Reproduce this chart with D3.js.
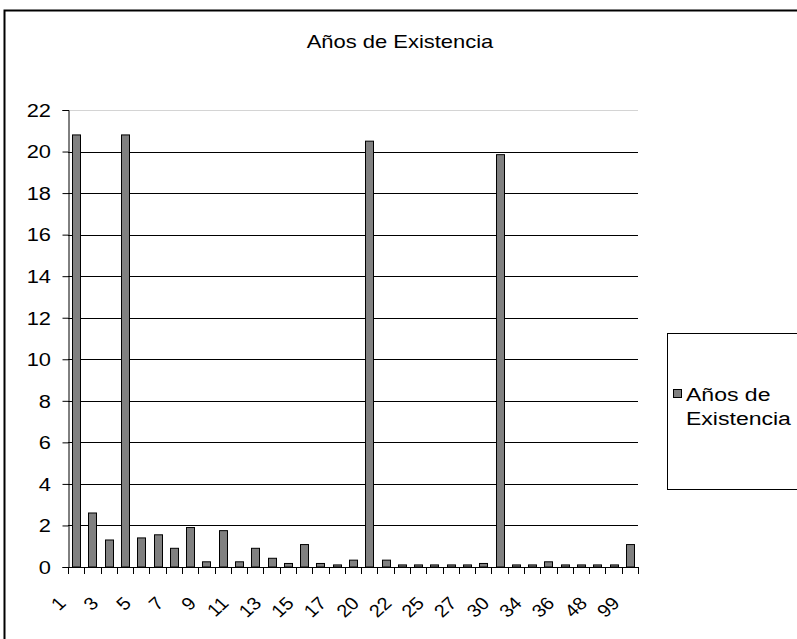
<!DOCTYPE html>
<html><head><meta charset="utf-8">
<script src="https://cdn.jsdelivr.net/npm/d3@7"></script>
<style>body{margin:0;background:#fff}svg{display:block;font-family:Arial,"Liberation Sans",sans-serif}</style>
</head><body><script>
const categories = ["1","2","3","4","5","6","7","8","9","10","11","12","13","14","15","16","17","18","20","21","22","24","25","26","27","28","30","32","34","35","36","40","48","50","99"];
const values = [20.8,2.6,1.3,20.8,1.4,1.55,0.9,1.9,0.25,1.75,0.25,0.9,0.42,0.17,1.08,0.17,0.1,0.33,20.5,0.33,0.1,0.1,0.1,0.1,0.1,0.17,19.85,0.1,0.1,0.25,0.1,0.1,0.1,0.1,1.08];
const yTicks = [0,2,4,6,8,10,12,14,16,18,20,22];
const shownLabels = ["1","3","5","7","9","11","13","15","17","20","22","25","27","30","34","36","48","99"];
const title = "Años de Existencia";
const seriesName = ["Años de", "Existencia"];

const W = 797, H = 639;
const svg = d3.select("body").append("svg").attr("width", W).attr("height", H);

// outer frame
svg.append("rect").attr("x", 4.5).attr("y", 10.5).attr("width", 820).attr("height", 660)
  .attr("fill", "#fff").attr("stroke", "#000").attr("stroke-width", 2);

svg.append("text").attr("transform", "translate(400,48) scale(1.22,1)").attr("text-anchor", "middle")
  .attr("font-size", 18).text(title);

const x = d3.scaleBand().domain(categories).range([68, 638]).paddingInner(0.5).paddingOuter(0.25);
const y = d3.scaleLinear().domain([0, 22]).range([567, 110]);

// gridlines
svg.append("g").selectAll("line").data(yTicks.filter(d => d > 0)).join("line")
  .attr("x1", 68).attr("x2", 638)
  .attr("y1", d => Math.round(y(d)) + 0.5).attr("y2", d => Math.round(y(d)) + 0.5)
  .attr("stroke", d => d === 22 ? "#d4d4d4" : "#000").attr("stroke-width", 1);

// bars
svg.append("g").selectAll("rect").data(values).join("rect")
  .attr("x", (d, i) => Math.round(x(categories[i])) + 0.5)
  .attr("y", d => y(d))
  .attr("width", Math.round(x.bandwidth()))
  .attr("height", d => y(0) - y(d))
  .attr("fill", "#808080").attr("stroke", "#000").attr("stroke-width", 1);

// y axis
const yAxis = svg.append("g").attr("transform", "translate(68.5,0)")
  .call(d3.axisLeft(y).tickValues(yTicks).tickSize(6).tickFormat(""));
yAxis.select(".domain").attr("stroke", "#000");
yAxis.selectAll(".tick line").attr("stroke", "#000");
svg.append("g").selectAll("text").data(yTicks).join("text")
  .attr("transform", d => `translate(51,${y(d)}) scale(1.15,1)`)
  .attr("text-anchor", "end").attr("dy", "0.36em").attr("font-size", 19).text(d => d);

// x axis line and ticks at boundaries
const step = x.step();
const bounds = d3.range(categories.length + 1).map(i => 68 + i * step);
svg.append("line").attr("x1", 68).attr("x2", 638).attr("y1", 567.5).attr("y2", 567.5).attr("stroke", "#000");
svg.append("g").selectAll("line").data(bounds).join("line")
  .attr("x1", d => Math.round(d) + 0.5).attr("x2", d => Math.round(d) + 0.5)
  .attr("y1", 567).attr("y2", 574).attr("stroke", "#000");

// x labels
svg.append("g").selectAll("text").data(shownLabels).join("text")
  .attr("transform", d => `translate(${x(d) + x.bandwidth() / 2 - 14},600) scale(1.1,1) rotate(-45)`)
  .attr("text-anchor", "end").attr("dy", "0.35em").attr("font-size", 18).text(d => d);

// legend
svg.append("rect").attr("x", 667.5).attr("y", 333.5).attr("width", 200).attr("height", 156)
  .attr("fill", "#fff").attr("stroke", "#000").attr("stroke-width", 1);
svg.append("rect").attr("x", 673.5).attr("y", 389.5).attr("width", 8).attr("height", 8)
  .attr("fill", "#808080").attr("stroke", "#000");
svg.append("g").selectAll("text").data(seriesName).join("text")
  .attr("transform", (d, i) => `translate(686,${401 + i * 24}) scale(1.28,1)`)
  .attr("font-size", 18).text(d => d);
</script></body></html>
